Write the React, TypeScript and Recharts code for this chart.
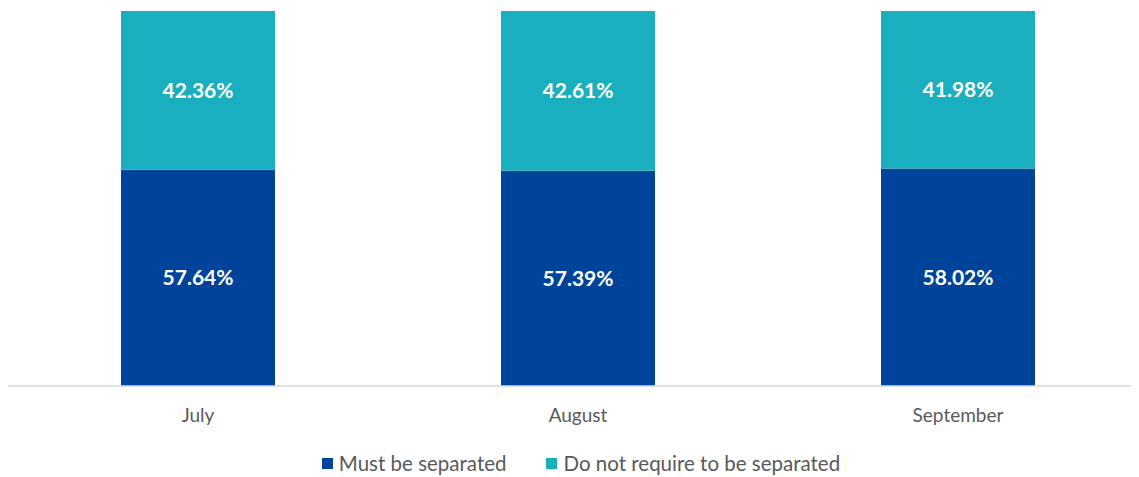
import { Bar, BarChart, LabelList, Legend, XAxis, YAxis } from 'recharts';

const months = ['July', 'August', 'September'];
const mustSeparate = [57.64, 57.39, 58.02];
const noSeparate = [42.36, 42.61, 41.98];

const DARK = '#00439A';
const TEAL = '#1AAFBE';

const data = months.map((m, i) => ({ month: m, must: mustSeparate[i], not: noSeparate[i] }));

const legendItems = [
    { label: 'Must be separated', color: DARK },
    { label: 'Do not require to be separated', color: TEAL },
];

function ChartLegend() {
    return (
        <div
            style={{
                display: 'flex',
                justifyContent: 'center',
                gap: 40,
                paddingTop: 20,
                paddingLeft: 6,
                lineHeight: '24px',
                fontFamily: 'Lato, sans-serif',
                fontSize: 20.5,
                color: '#595959',
            }}
        >
            {legendItems.map((it) => (
                <div key={it.label} style={{ display: 'flex', alignItems: 'center' }}>
                    <span style={{ width: 11, height: 11, background: it.color, display: 'inline-block', marginRight: 6 }} />
                    <span>{it.label}</span>
                </div>
            ))}
        </div>
    );
}

const pct = (v: any) => `${Number(v).toFixed(2)}%`;

export default function App() {
    return (
        <div style={{ width: 1131, height: 469, overflow: 'hidden' }}>
            <BarChart width={1140} height={469} data={data} margin={{ top: 3, right: 0, left: 0, bottom: 0 }} barSize={154}>
                <XAxis
                    dataKey="month"
                    tickLine={false}
                    axisLine={{ stroke: '#d9d9d9', strokeWidth: 1.5 }}
                    tick={{ fontSize: 19, fill: '#595959', fontFamily: 'Lato, sans-serif' }}
                    tickMargin={17}
                    height={45}
                />
                <YAxis hide domain={[0, 100]} />
                <Legend verticalAlign="bottom" height={46} content={<ChartLegend />} />
                <Bar dataKey="must" stackId="a" fill={DARK} isAnimationActive={false}>
                    <LabelList dataKey="must" position="center" formatter={pct} fill="#fff" fontSize={21} fontWeight="bold" fontFamily="Lato, sans-serif" />
                </Bar>
                <Bar dataKey="not" stackId="a" fill={TEAL} isAnimationActive={false}>
                    <LabelList dataKey="not" position="center" formatter={pct} fill="#fff" fontSize={21} fontWeight="bold" fontFamily="Lato, sans-serif" />
                </Bar>
            </BarChart>
        </div>
    );
}
